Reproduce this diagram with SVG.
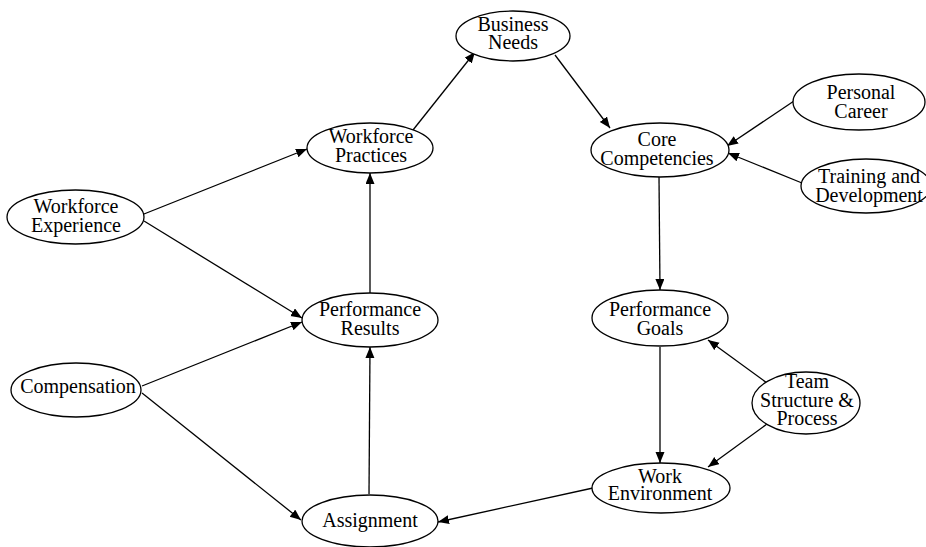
<svg xmlns="http://www.w3.org/2000/svg" width="926" height="547" viewBox="0 0 926 547">
<defs>
<marker id="arr" markerUnits="userSpaceOnUse" markerWidth="12" markerHeight="10" refX="11" refY="4.5" orient="auto">
<path d="M0,0 L11,4.5 L0,9 Z" fill="#000"/>
</marker>
<style>
.n ellipse{fill:#fff;stroke:#000;stroke-width:1.3}
.n text{font-family:"Liberation Serif","Times New Roman",serif;font-size:20px;fill:#000;text-anchor:middle}
#edges line{stroke:#000;stroke-width:1.3;marker-end:url(#arr)}
</style>
</defs>
<rect width="926" height="547" fill="#fff"/>
<g id="edges">
<line x1="144" y1="214" x2="307" y2="149"/>
<line x1="144" y1="221" x2="302" y2="318"/>
<line x1="142" y1="386" x2="302" y2="322"/>
<line x1="142" y1="393" x2="301" y2="520"/>
<line x1="370" y1="293" x2="370" y2="173"/>
<line x1="369" y1="494" x2="370" y2="347"/>
<line x1="413" y1="130" x2="475" y2="52"/>
<line x1="555" y1="55" x2="610" y2="128"/>
<line x1="794" y1="101" x2="727" y2="146"/>
<line x1="802" y1="183" x2="728" y2="153"/>
<line x1="659" y1="177" x2="660" y2="290"/>
<line x1="767" y1="383" x2="708" y2="340"/>
<line x1="660" y1="347" x2="660" y2="463"/>
<line x1="767" y1="424" x2="708" y2="467"/>
<line x1="593" y1="488" x2="438" y2="522"/>
</g>
<g id="business-needs" class="n"><ellipse cx="513" cy="36" rx="57" ry="25"/><text x="513" y="31">Business</text><text x="513" y="49">Needs</text></g>
<g id="personal-career" class="n"><ellipse cx="859" cy="102" rx="66" ry="28"/><text x="861" y="99">Personal</text><text x="861" y="118">Career</text></g>
<g id="training" class="n"><ellipse cx="866" cy="186" rx="65" ry="27"/><text x="869" y="183">Training and</text><text x="869" y="202">Development</text></g>
<g id="workforce-experience" class="n"><ellipse cx="75.5" cy="217" rx="68.5" ry="27"/><text x="76" y="213">Workforce</text><text x="76" y="232">Experience</text></g>
<g id="workforce-practices" class="n"><ellipse cx="370" cy="148" rx="63" ry="25"/><text x="371" y="143">Workforce</text><text x="371" y="162">Practices</text></g>
<g id="core-competencies" class="n"><ellipse cx="660" cy="150" rx="69" ry="27"/><text x="657" y="146">Core</text><text x="657" y="165">Competencies</text></g>
<g id="performance-results" class="n"><ellipse cx="370" cy="320" rx="68" ry="27"/><text x="370" y="316">Performance</text><text x="370" y="335">Results</text></g>
<g id="performance-goals" class="n"><ellipse cx="660" cy="318" rx="68" ry="28"/><text x="660" y="316">Performance</text><text x="660" y="335">Goals</text></g>
<g id="team" class="n"><ellipse cx="806" cy="403" rx="54" ry="31"/><text x="807" y="388">Team</text><text x="807" y="407">Structure &amp;</text><text x="807" y="425">Process</text></g>
<g id="work-environment" class="n"><ellipse cx="661" cy="488" rx="69" ry="25"/><text x="660" y="483">Work</text><text x="660" y="500">Environment</text></g>
<g id="compensation" class="n"><ellipse cx="76" cy="390" rx="65" ry="27"/><text x="78" y="393">Compensation</text></g>
<g id="assignment" class="n"><ellipse cx="370" cy="521" rx="68" ry="26"/><text x="370" y="527">Assignment</text></g>
</svg>
